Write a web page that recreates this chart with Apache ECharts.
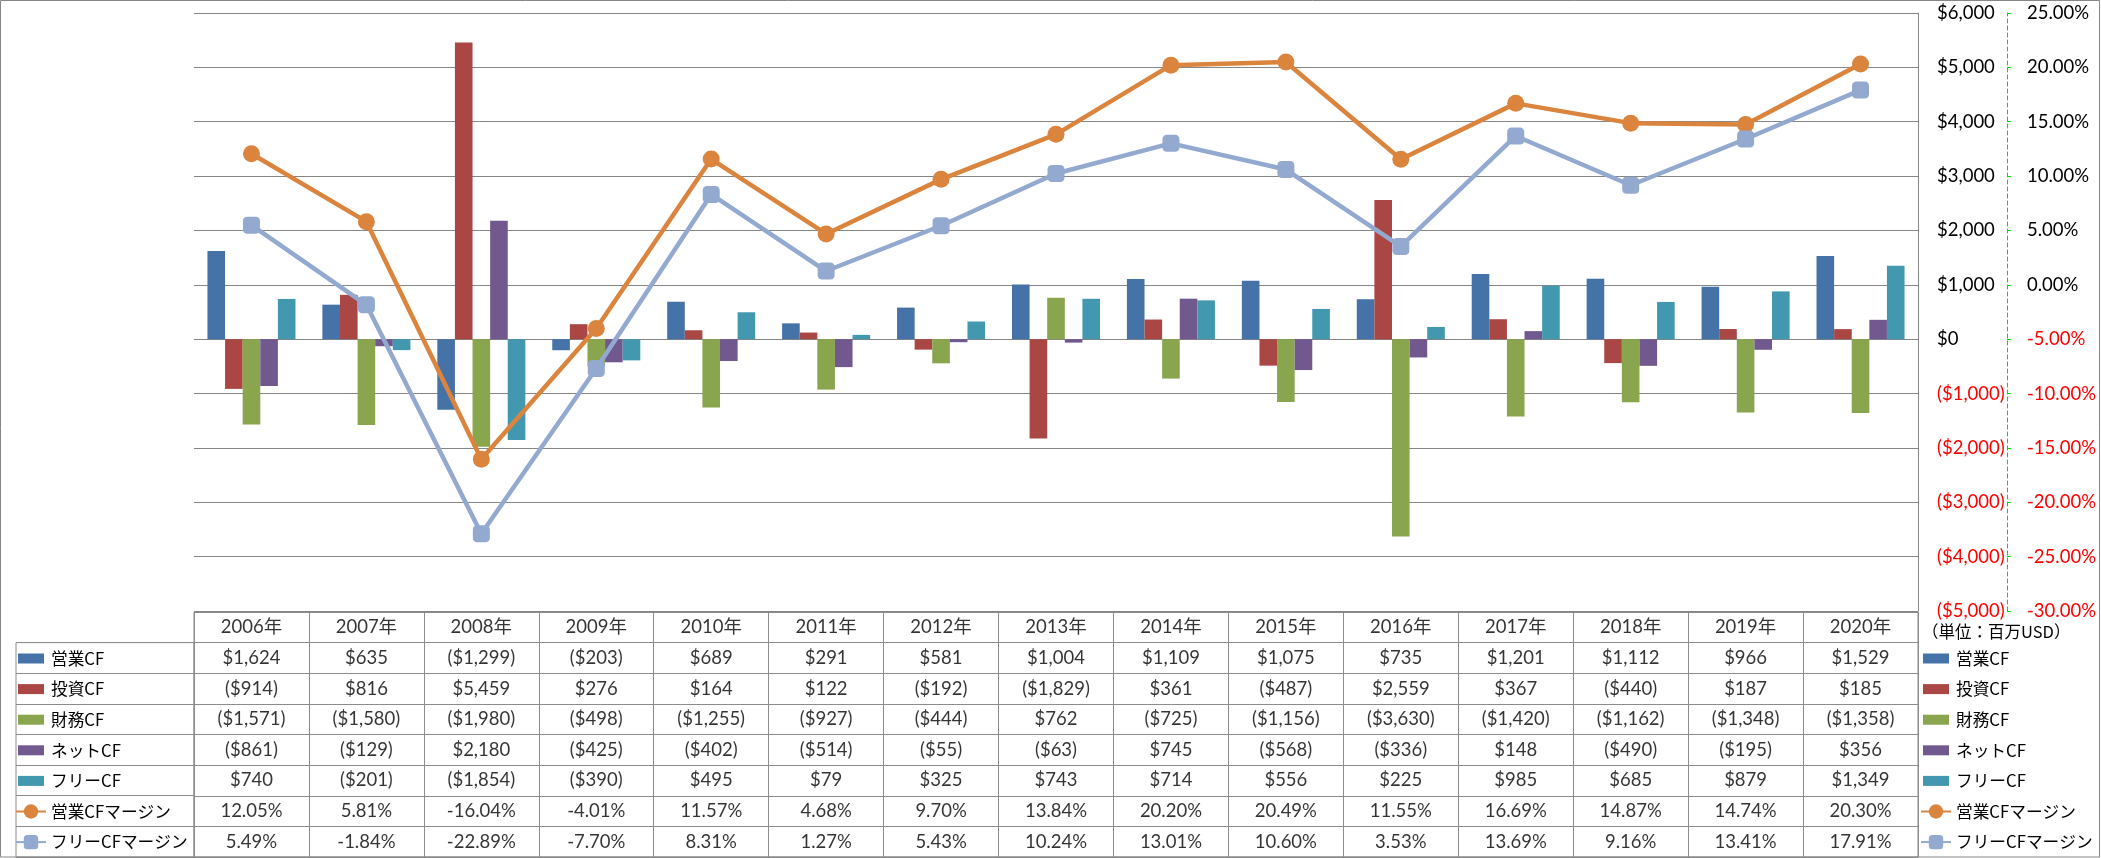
<!DOCTYPE html>
<html>
<head>
<meta charset="utf-8">
<script src="https://cdn.jsdelivr.net/npm/echarts@6/dist/echarts.min.js"></script>
<style>
html,body{margin:0;padding:0;background:#fff;}
#chart{width:2101px;height:858px;}
</style>
</head>
<body>
<div id="chart"></div>
<script>
const years = ['2006年','2007年','2008年','2009年','2010年','2011年','2012年','2013年','2014年','2015年','2016年','2017年','2018年','2019年','2020年'];
const opCF = [1624,635,-1299,-203,689,291,581,1004,1109,1075,735,1201,1112,966,1529];
const invCF = [-914,816,5459,276,164,122,-192,-1829,361,-487,2559,367,-440,187,185];
const finCF = [-1571,-1580,-1980,-498,-1255,-927,-444,762,-725,-1156,-3630,-1420,-1162,-1348,-1358];
const netCF = [-861,-129,2180,-425,-402,-514,-55,-63,745,-568,-336,148,-490,-195,356];
const freeCF = [740,-201,-1854,-390,495,79,325,743,714,556,225,985,685,879,1349];
const opMargin = [12.05,5.81,-16.04,-4.01,11.57,4.68,9.70,13.84,20.20,20.49,11.55,16.69,14.87,14.74,20.30];
const freeMargin = [5.49,-1.84,-22.89,-7.70,8.31,1.27,5.43,10.24,13.01,10.60,3.53,13.69,9.16,13.41,17.91];
const seriesNames = ['営業CF','投資CF','財務CF','ネットCF','フリーCF','営業CFマージン','フリーCFマージン'];
const unitLabel = '（単位：百万USD）';

const colors = ['#4572A7','#AA4643','#89A54E','#71588F','#4198AF','#DB843D','#93A9CF'];
const rows = [opCF, invCF, finCF, netCF, freeCF, opMargin, freeMargin];
const rowIsPct = [false,false,false,false,false,true,true];

function fmtMoney(v){
  const s = '$' + Math.abs(v).toLocaleString('en-US');
  return v < 0 ? '(' + s + ')' : s;
}
function fmtPct(v){ return v.toFixed(2) + '%'; }

const numFont = 'Lato, "Noto Sans CJK JP", sans-serif';
const jpFont = '"Noto Sans CJK JP", sans-serif';
const gridColor = '#868686';
const tableColor = '#8c8c8c';

const tableCells = [];
for (let c = 0; c < years.length; c++) {
  for (let r = 0; r <= rows.length; r++) tableCells.push([c, r]);
}
const rowIdx = ['h'].concat(rows.map((_, i) => String(i + 1)));
const barIcon = 'path://M0,0M30,18M2,4h26v10h-26z';

const chart = echarts.init(document.getElementById('chart'), null, {renderer: 'canvas'});

const barSeries = [0,1,2,3,4].map(i => ({
  name: seriesNames[i],
  type: 'bar',
  xAxisIndex: 0, yAxisIndex: 0,
  data: rows[i],
  barGap: '0%',
  barCategoryGap: '23.4%',
  itemStyle: {color: colors[i]},
  emphasis: {disabled: true}
}));
const lineSeries = [5,6].map(i => ({
  name: seriesNames[i],
  type: 'line',
  xAxisIndex: 0, yAxisIndex: 1,
  data: rows[i],
  z: 5,
  symbol: i === 5 ? 'circle' : 'roundRect',
  symbolSize: 17,
  lineStyle: {color: colors[i], width: 4.5},
  itemStyle: {color: colors[i]},
  emphasis: {disabled: true}
}));

const legendData = seriesNames.map((n, i) => i < 5 ? {name: n, icon: barIcon} : {name: n});
const legendBase = {
  orient: 'vertical', top: 649.5, padding: 0,
  itemWidth: 30, itemHeight: 18, itemGap: 12.6,
  selectedMode: false,
  textStyle: {fontFamily: jpFont, fontSize: 16.7, lineHeight: 18, color: '#000'},
  data: legendData
};

const option = {
  backgroundColor: '#fff',
  animation: false,
  title: {
    text: unitLabel, left: 1922, top: 623, padding: 0,
    textStyle: {fontFamily: jpFont, fontSize: 16.5, fontWeight: 'normal', color: '#000'}
  },
  legend: [
    Object.assign({left: 15}, legendBase),
    Object.assign({left: 1920}, legendBase)
  ],
  grid: [
    {left: 194, top: 13, width: 1724, height: 598, outerBoundsMode: 'none'},
    {left: 194, top: 612, width: 1724, height: 245, show: true, borderColor: tableColor, borderWidth: 1, backgroundColor: 'transparent', outerBoundsMode: 'none'},
    {left: 16, top: 642.6, width: 178, height: 214.4, show: true, borderColor: tableColor, borderWidth: 1, backgroundColor: 'transparent', outerBoundsMode: 'none'}
  ],
  xAxis: [
    {type: 'category', gridIndex: 0, data: years, axisLine: {show: false}, axisTick: {show: false}, axisLabel: {show: false}, splitLine: {show: false}},
    {type: 'category', gridIndex: 1, data: years, axisLine: {show: false}, axisTick: {show: false}, axisLabel: {show: false},
      splitLine: {show: true, interval: 0, lineStyle: {color: tableColor, width: 1}}},
    {type: 'value', gridIndex: 2, min: 0, max: 1, axisLine: {show: false}, axisTick: {show: false}, axisLabel: {show: false}, splitLine: {show: false}}
  ],
  yAxis: [
    {type: 'value', gridIndex: 0, position: 'right', min: -5000, max: 6000, interval: 1000,
      axisLine: {show: true, lineStyle: {color: gridColor, width: 1}},
      axisTick: {show: false},
      splitLine: {show: true, lineStyle: {color: gridColor, width: 1}},
      axisLabel: {margin: 19, fontFamily: numFont, fontSize: 18.5,
        formatter: v => fmtMoney(v),
        color: v => parseFloat(v) < 0 ? '#FF0000' : '#000'}
    },
    {type: 'value', gridIndex: 0, position: 'right', offset: 89, min: -30, max: 25, interval: 5,
      axisLine: {show: true, lineStyle: {color: '#00DD00', width: 1, type: [4, 3]}},
      axisTick: {show: true, length: 4, lineStyle: {color: '#00DD00'}},
      splitLine: {show: false},
      axisLabel: {margin: 20, fontFamily: numFont, fontSize: 18.5,
        formatter: v => fmtPct(v),
        color: v => parseFloat(v) < 0 ? '#FF0000' : '#000'}
    },
    {type: 'category', gridIndex: 1, data: rowIdx, inverse: true,
      axisLine: {show: false}, axisTick: {show: false}, axisLabel: {show: false},
      splitLine: {show: true, interval: 0, lineStyle: {color: tableColor, width: 1}}},
    {type: 'category', gridIndex: 2, data: rowIdx.slice(1), inverse: true,
      axisLine: {show: false}, axisTick: {show: false}, axisLabel: {show: false},
      splitLine: {show: true, interval: 0, lineStyle: {color: tableColor, width: 1}}}
  ],
  series: barSeries.concat(lineSeries).concat([{
    name: 'table',
    type: 'scatter',
    xAxisIndex: 1, yAxisIndex: 2,
    data: tableCells,
    symbolSize: 1,
    silent: true,
    itemStyle: {color: 'rgba(0,0,0,0)'},
    label: {
      show: true, position: 'inside',
      fontFamily: numFont, fontSize: 18.5, color: '#000',
      formatter: p => {
        const c = p.value[0], r = p.value[1];
        if (r === 0) return years[c];
        const v = rows[r - 1][c];
        return rowIsPct[r - 1] ? fmtPct(v) : fmtMoney(v);
      }
    },
    emphasis: {disabled: true}
  }]),
  graphic: [{
    type: 'rect', silent: true, z: 100,
    shape: {x: 0.5, y: 0.5, width: 2099, height: 856.5},
    style: {fill: 'none', stroke: '#868686', lineWidth: 1}
  }]
};
chart.setOption(option);
</script>
</body>
</html>
